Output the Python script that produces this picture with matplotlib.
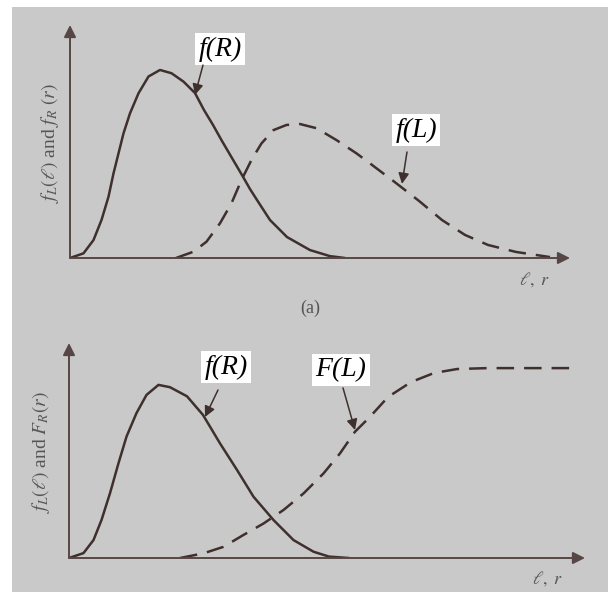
import matplotlib
matplotlib.use("Agg")
import matplotlib.pyplot as plt

plt.rcParams['mathtext.fontset'] = 'stix'
plt.rcParams['font.family'] = ['Liberation Serif', 'DejaVu Serif']

# ---- Panel (a): densities ----
top_fR_x = [0.0, 0.27, 0.47, 0.63, 0.77, 0.87, 0.97, 1.07, 1.2, 1.37, 1.57, 1.8, 2.03, 2.27, 2.5,
            2.68, 2.86, 3.04, 3.24, 3.44, 3.6, 3.74, 4.0, 4.34, 4.8, 5.2, 5.5]
top_fR_y = [0.0, 0.02, 0.077, 0.163, 0.263, 0.363, 0.449, 0.535, 0.621, 0.707, 0.779, 0.807, 0.793, 0.757, 0.708,
            0.635, 0.571, 0.502, 0.429, 0.356, 0.296, 0.249, 0.163, 0.09, 0.034, 0.008, 0.0]
top_fL_x = [2.12, 2.47, 2.73, 3.0, 3.23, 3.43, 3.63, 3.83, 4.07, 4.33, 4.6, 4.93, 5.33, 5.73, 6.0,
            6.5, 6.98, 7.44, 7.9, 8.36, 8.92, 9.6]
top_fL_y = [0.0, 0.027, 0.07, 0.149, 0.235, 0.335, 0.421, 0.492, 0.549, 0.571, 0.575, 0.557, 0.506, 0.449, 0.406,
            0.325, 0.245, 0.163, 0.099, 0.056, 0.026, 0.004]

# ---- Panel (b): density and CDF ----
bot_fR_x = [0.0, 0.29, 0.49, 0.65, 0.82, 0.99, 1.15, 1.35, 1.55, 1.79, 2.02, 2.36, 2.68, 3.02, 3.36,
            3.69, 4.09, 4.49, 4.89, 5.2, 5.6]
bot_fR_y = [0.0, 0.021, 0.077, 0.163, 0.278, 0.407, 0.521, 0.622, 0.7, 0.743, 0.733, 0.694, 0.614, 0.492, 0.378,
            0.263, 0.163, 0.077, 0.027, 0.006, 0.0]
bot_FL_x = [2.22, 2.69, 3.09, 3.49, 3.89, 4.29, 4.69, 5.09, 5.42, 5.72, 6.02, 6.38, 6.84, 7.3, 7.76, 8.38, 10.1]
bot_FL_y = [0.0, 0.02, 0.048, 0.099, 0.148, 0.206, 0.277, 0.363, 0.449, 0.542, 0.606, 0.691, 0.755, 0.794,
            0.811, 0.815, 0.815]

BG = '#c9c9c9'
CURVE = '#3e302d'
AXC = '#574744'

fig = plt.figure(figsize=(6.08, 5.92), dpi=100, facecolor='white')
# photo background with white strips at top and left
bg = fig.add_axes([12/608, 0, 1 - 12/608, 1 - 7/592])
bg.set_facecolor(BG)
bg.set_xticks([]); bg.set_yticks([])
for s in bg.spines.values():
    s.set_visible(False)
bg.set_zorder(-10)


def make_panel(rect, xmax, ymax):
    ax = fig.add_axes(rect)
    ax.set_xlim(0, xmax)
    ax.set_ylim(0, ymax)
    ax.patch.set_alpha(0)
    for s in ax.spines.values():
        s.set_visible(False)
    ax.set_xticks([]); ax.set_yticks([])
    ap = dict(arrowstyle='-|>', lw=1.4, color=AXC, mutation_scale=18, shrinkA=0, shrinkB=0)
    ax.annotate('', xy=(1, 0), xytext=(0, 0), xycoords='axes fraction', arrowprops=ap, annotation_clip=False)
    ax.annotate('', xy=(0, 1), xytext=(0, 0), xycoords='axes fraction', arrowprops=ap, annotation_clip=False)
    return ax


def label(ax, txt, pos, start, tip):
    ax.text(pos[0], pos[1], txt, ha='center', va='center', fontsize=20, style='italic',
            family=['Liberation Serif'], color='black',
            bbox=dict(boxstyle='square,pad=0.12', fc='white', ec='none'))
    ax.annotate('', xy=tip, xytext=start,
                arrowprops=dict(arrowstyle='-|>', lw=1.1, color=CURVE, mutation_scale=16,
                                shrinkA=0, shrinkB=0))

# top panel
ax1 = make_panel([70/608, (592-258)/592, 500/608, 233/592], 10.0, 1.0)
ax1.plot(top_fR_x, top_fR_y, color=CURVE, lw=1.8, solid_capstyle='round', solid_joinstyle='round')
ax1.plot(top_fL_x, top_fL_y, color=CURVE, lw=1.8, dashes=(7, 4))
label(ax1, 'f(R)', (3.0, 0.897), (2.66, 0.828), (2.5, 0.70))
label(ax1, 'f(L)', (6.92, 0.549), (6.74, 0.455), (6.64, 0.318))

# bottom panel
ax2 = make_panel([69/608, (592-558)/592, 516/608, 215/592], 10.32, 215/233)
ax2.plot(bot_fR_x, bot_fR_y, color=CURVE, lw=1.8, solid_capstyle='round', solid_joinstyle='round')
ax2.plot(bot_FL_x, bot_FL_y, color=CURVE, lw=1.8, dashes=(7, 4))
label(ax2, 'f(R)', (3.14, 0.820), (2.98, 0.721), (2.72, 0.605))
label(ax2, 'F(L)', (5.44, 0.807), (5.48, 0.730), (5.72, 0.549))

# axis labels
fig.text(50/608, 1 - 143/592, r'$f_L(\ell)$ and $f_R\ (r)$', rotation=90, ha='center', va='center',
         fontsize=14, color='#555555')
fig.text(41/608, 1 - 452/592, r'$f_L(\ell)$ and $F_R(r)$', rotation=90, ha='center', va='center',
         fontsize=14, color='#555555')
fig.text(535/608, 1 - 280/592, r'$\ell,\ r$', ha='center', va='center', fontsize=13, color='#555555')
fig.text(548/608, 1 - 579/592, r'$\ell,\ r$', ha='center', va='center', fontsize=13, color='#555555')
fig.text(310/608, 1 - 308/592, '(a)', ha='center', va='center', fontsize=13, color='#555555')

fig.savefig('out.png', dpi=100, facecolor='white')
